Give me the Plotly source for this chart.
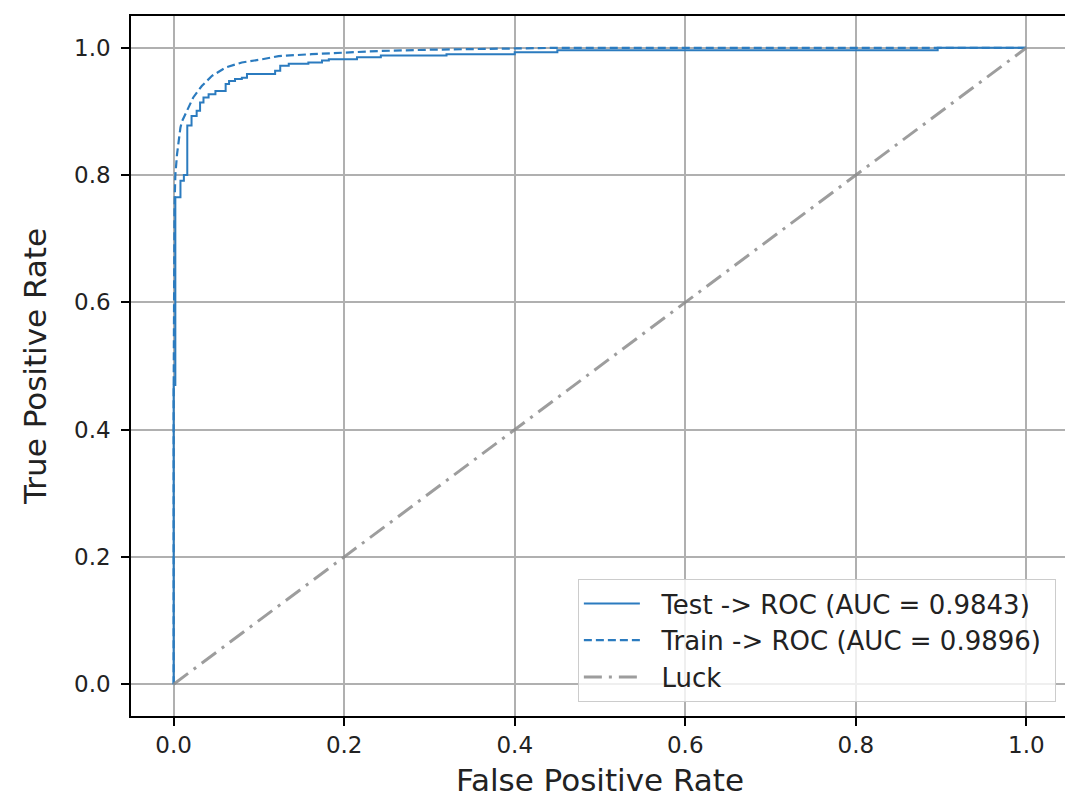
import plotly.graph_objects as go

# Test ROC curve (step corners)
test_fpr = [0.0, 0.0, 0.002, 0.008, 0.012, 0.016, 0.021, 0.027, 0.031, 0.035, 0.041,
            0.049, 0.061, 0.065, 0.072, 0.080, 0.086, 0.119, 0.125, 0.135, 0.158,
            0.174, 0.182, 0.215, 0.243, 0.32, 0.40, 0.45, 0.896, 1.0]
test_tpr = [0.0, 0.47, 0.765, 0.791, 0.80, 0.878, 0.893, 0.901, 0.914, 0.922, 0.927,
            0.932, 0.943, 0.948, 0.951, 0.953, 0.959, 0.964, 0.972, 0.975, 0.977,
            0.980, 0.982, 0.985, 0.988, 0.990, 0.993, 0.996, 1.0, 1.0]

# Train ROC curve
train_fpr = [0.0, 0.0, 0.001, 0.002, 0.004, 0.008, 0.010, 0.016, 0.023, 0.033, 0.045,
             0.061, 0.080, 0.104, 0.123, 0.162, 0.202, 0.241, 0.299, 0.45, 1.0]
train_tpr = [0.0, 0.45, 0.75, 0.80, 0.833, 0.875, 0.885, 0.901, 0.922, 0.940, 0.956,
             0.969, 0.977, 0.982, 0.987, 0.990, 0.993, 0.995, 0.997, 1.0, 1.0]

luck_x = [0.0, 1.0]
luck_y = [0.0, 1.0]

tick_vals = [0.0, 0.2, 0.4, 0.6, 0.8, 1.0]
tick_text = ["0.0", "0.2", "0.4", "0.6", "0.8", "1.0"]

labels = ["Test -> ROC (AUC = 0.9843)", "Train -> ROC (AUC = 0.9896)", "Luck"]

BLUE = "#2b7bbf"
FONT = "DejaVu Sans"
PAD = "\u00a0\u00a0"
TAIL = "\u00a0"

fig = go.Figure()
fig.add_trace(go.Scatter(x=test_fpr, y=test_tpr, mode="lines", name=PAD + labels[0] + TAIL,
                         line=dict(color=BLUE, width=2, shape="hv"), legendgroup="a"))
fig.add_trace(go.Scatter(x=train_fpr, y=train_tpr, mode="lines", name=PAD + labels[1] + TAIL,
                         line=dict(color=BLUE, width=2.2, dash="8px,4px"), legendgroup="b"))
fig.add_trace(go.Scatter(x=luck_x, y=luck_y, mode="lines", name=PAD + labels[2],
                         line=dict(color="rgba(140,140,140,0.85)", width=3,
                                   dash="18px,7px,3px,7px"), legendgroup="c"))

axis_common = dict(
    showline=True, linecolor="black", linewidth=1.5, mirror=True,
    ticks="outside", ticklen=8, tickwidth=1.5, tickcolor="black",
    showgrid=True, gridcolor="#b0b0b0", gridwidth=1.5, zeroline=False,
    tickvals=tick_vals, ticktext=tick_text,
    tickfont=dict(family=FONT, size=23, color="#222222"),
)

fig.update_layout(
    width=1065, height=790,
    margin=dict(l=123, r=2, t=8, b=82),
    paper_bgcolor="white", plot_bgcolor="white",
    font=dict(family=FONT, color="#222222"),
    xaxis=dict(range=[-0.05, 1.05], title=dict(text="False Positive Rate",
               font=dict(family=FONT, size=31), standoff=12), **axis_common),
    yaxis=dict(range=[-0.05, 1.05], ticklabelstandoff=6,
               title=dict(text="True Positive Rate",
               font=dict(family=FONT, size=31), standoff=18), **axis_common),
    legend=dict(x=0.986, y=0.02, xanchor="right", yanchor="bottom",
                bgcolor="rgba(255,255,255,0.8)", bordercolor="#cccccc", borderwidth=1,
                font=dict(family=FONT, size=26, color="#222222"),
                itemwidth=56, tracegroupgap=8, traceorder="normal"),
    showlegend=True,
)

fig.write_html("out.html")
